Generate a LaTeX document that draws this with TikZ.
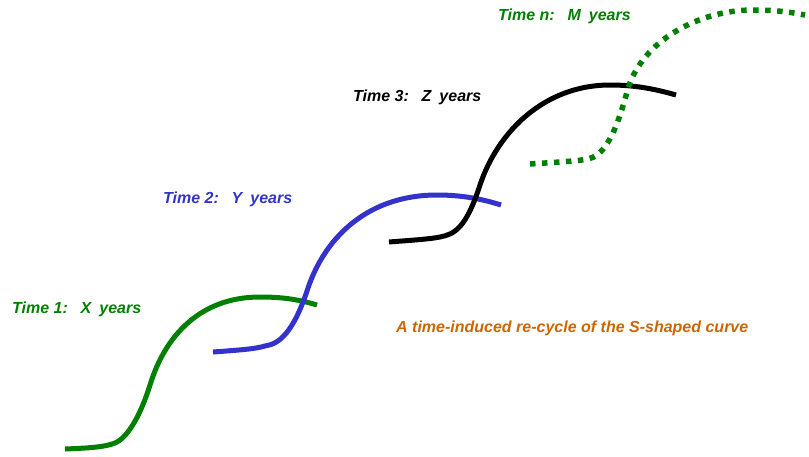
\documentclass[tikz,border=0pt]{standalone}
\usepackage{fontspec}
\setmainfont{Liberation Sans}
\definecolor{sgreen}{RGB}{0,128,0}
\definecolor{sblue}{RGB}{51,51,204}
\definecolor{sorange}{RGB}{204,102,0}
\begin{document}
\begin{tikzpicture}[x=1pt,y=-1pt,
  scurve/.style={line width=5pt,line cap=butt,line join=round},
  dotcurve/.style={line width=5.5pt,line cap=butt,dash pattern=on 5.5pt off 6.5pt},
  lbl/.style={inner sep=0pt,anchor=base west,font=\fontsize{16}{19}\selectfont\bfseries\itshape}]
\useasboundingbox (0,0) rectangle (809,456);
% first cycle
\draw[scurve,sgreen] (65,449) .. controls (90,448) and (105,447) .. (115,443)
  .. controls (127,438) and (140,417) .. (150,385)
  .. controls (165,336) and (200,297) .. (260,297)
  .. controls (285,297) and (300,300) .. (317,305);
% second cycle
\draw[scurve,sblue] (213,352) .. controls (240,350) and (255,349) .. (265,346)
  .. controls (280,344) and (294,331) .. (308,288)
  .. controls (326,235) and (370,195) .. (437,195)
  .. controls (465,195) and (485,200) .. (501,205);
% third cycle
\draw[scurve,black] (389,242) .. controls (415,240) and (430,239) .. (440,237)
  .. controls (455,234) and (466,228) .. (480,185)
  .. controls (498,131) and (545,85) .. (610,85)
  .. controls (635,85) and (655,89) .. (676,95);
% n-th cycle, still to come
\draw[dotcurve,sgreen] (530,164) .. controls (560,162) and (578,161) .. (588,159)
  .. controls (602,156) and (614,140) .. (627,92)
  .. controls (641,40) and (700,10) .. (753,10)
  .. controls (775,10) and (790,12) .. (805,15);
\node[lbl,text=sgreen] (t1) at (12,313) {Time 1:\hspace{0.8em}X\hspace{0.5em}years};
\node[lbl,text=sblue] (t2) at (163,203) {Time 2:\hspace{0.8em}Y\hspace{0.5em}years};
\node[lbl,text=black] (t3) at (353,101) {Time 3:\hspace{0.8em}Z\hspace{0.5em}years};
\node[lbl,text=sgreen] (tn) at (498,20) {Time n:\hspace{0.8em}M\hspace{0.5em}years};
\node[lbl,text=sorange] (cap) at (396,332) {A time-induced re-cycle of the S-shaped curve};
\end{tikzpicture}
\end{document}
